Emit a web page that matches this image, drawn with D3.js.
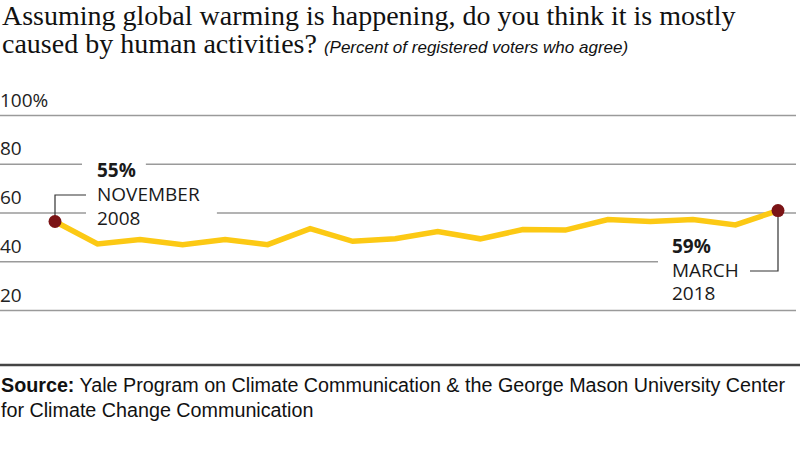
<!DOCTYPE html>
<html>
<head>
<meta charset="utf-8">
<script src="https://cdn.jsdelivr.net/npm/d3@7"></script>
<style>
  html, body { margin: 0; padding: 0; background: #fff; }
  svg { display: block; }
</style>
</head>
<body>
<svg id="chart" width="800" height="450"></svg>
<script>
// ---- Data ----
const waves = ["Nov 2008","Jan 2010","Jun 2010","May 2011","Nov 2011","Mar 2012","Sep 2012","Apr 2013","Dec 2013",
               "Apr 2014","Oct 2014","Mar 2015","Oct 2015","Mar 2016","Nov 2016","May 2017","Oct 2017","Mar 2018"];
const agreeValues = [56.3, 47.1, 48.9, 46.8, 48.9, 46.8, 53.4, 48.2, 49.2, 52.2, 49.2, 53.0, 52.8, 57.1, 56.3, 57.1, 54.9, 60.8];
const yTicks = [20, 40, 60, 80, 100];
const yTickLabels = ["20", "40", "60", "80", "100%"];
const firstLabel = ["55%", "NOVEMBER", "2008"];
const lastLabel = ["59%", "MARCH", "2018"];
const titleLines = ["Assuming global warming is happening, do you think it is mostly", "caused by human activities?"];
const subtitle = "(Percent of registered voters who agree)";
const sourceLines = ["Yale Program on Climate Communication & the George Mason University Center", "for Climate Change Communication"];

// ---- Setup ----
const svg = d3.select("#chart");
const x = d3.scalePoint().domain(waves).range([55, 778]);
const y = d3.scaleLinear().domain([20, 100]).range([310, 115]);
const sans = "'Open Sans', 'Noto Sans', sans-serif";

// Title
const title = svg.append("text")
  .attr("font-family", "'Liberation Serif', 'Times New Roman', serif")
  .attr("font-size", 28).attr("fill", "#111");
title.append("tspan").attr("x", 2).attr("y", 25).text(titleLines[0]);
title.append("tspan").attr("x", 2).attr("y", 53).text(titleLines[1]);
title.append("tspan")
  .attr("dx", 7)
  .attr("font-family", "'Liberation Sans', Arial, sans-serif")
  .attr("font-style", "italic").attr("font-size", 17)
  .text(subtitle);

// Gridlines + y labels
const axis = d3.axisRight(y).tickValues(yTicks).tickSize(796)
  .tickFormat((d, i) => yTickLabels[i]);
const gAxis = svg.append("g").attr("transform", "translate(0,0)").call(axis);
gAxis.select(".domain").remove();
gAxis.selectAll(".tick line").attr("stroke", "#9a9a9a").attr("stroke-width", 1.5);
gAxis.selectAll(".tick text")
  .attr("x", 0).attr("dy", -9).attr("text-anchor", "start")
  .attr("font-family", sans).attr("font-size", 19).attr("fill", "#222");

// Annotation layers
const ann = svg.append("g");
const lineLayer = svg.append("g");
const topLayer = svg.append("g");

// Line
const line = d3.line().x((d, i) => x(waves[i])).y(d => y(d));
lineLayer.append("path")
  .datum(agreeValues)
  .attr("d", line)
  .attr("fill", "none")
  .attr("stroke", "#FCC914")
  .attr("stroke-width", 5.5)
  .attr("stroke-linejoin", "miter");

// End points
const n = agreeValues.length;
const x0 = x(waves[0]), y0 = y(agreeValues[0]);
const x1 = x(waves[n - 1]), y1 = y(agreeValues[n - 1]);

function textBlock(g, lines, tx, baseY, gap) {
  return lines.map((t, i) => g.append("text")
    .attr("x", tx).attr("y", baseY + i * gap)
    .attr("font-family", sans).attr("font-size", 19)
    .attr("font-weight", i === 0 ? 700 : 400)
    .attr("fill", "#1a1a1a").text(t));
}

// Left annotation
const lt = textBlock(topLayer, firstLabel, 97, 177, 24);
{
  const b0 = lt[0].node().getBBox();
  ann.append("rect").attr("x", b0.x - 15).attr("y", b0.y).attr("width", b0.width + 25).attr("height", b0.height).attr("fill", "#fff");
  const b1 = lt[1].node().getBBox(), b2 = lt[2].node().getBBox();
  const w = Math.max(b1.width, b2.width);
  ann.append("rect").attr("x", b1.x - 11).attr("y", b1.y + 2).attr("width", w + 28).attr("height", b2.y + b2.height - b1.y - 4).attr("fill", "#fff");
}
topLayer.append("path")
  .attr("d", `M${x0},${y0}V195H86`)
  .attr("fill", "none").attr("stroke", "#333").attr("stroke-width", 1.2);

// Right annotation
const rt = textBlock(topLayer, lastLabel, 672, 253, 23.5);
{
  const b0 = rt[0].node().getBBox();
  const b2 = rt[2].node().getBBox();
  ann.append("rect").attr("x", 658).attr("y", b0.y).attr("width", 142).attr("height", b2.y + b2.height - b0.y - 4).attr("fill", "#fff");
}
topLayer.append("path")
  .attr("d", `M${x1},${y1}V271H750`)
  .attr("fill", "none").attr("stroke", "#333").attr("stroke-width", 1.2);

// Dots
topLayer.selectAll("circle.end")
  .data([[x0, y0], [x1, y1]])
  .join("circle").attr("class", "end")
  .attr("cx", d => d[0]).attr("cy", d => d[1]).attr("r", 6.5)
  .attr("fill", "#7B1416");

// Bottom rule
svg.append("line").attr("x1", 0).attr("x2", 800).attr("y1", 365).attr("y2", 365)
  .attr("stroke", "#444").attr("stroke-width", 2.5);

// Source (condensed look)
const srcFont = "'Liberation Sans Narrow', 'Arial Narrow', 'Liberation Sans', sans-serif";
const srcG = svg.append("g").attr("transform", "translate(1,0) scale(0.94,1)");
const s1 = srcG.append("text").attr("x", 0).attr("y", 392)
  .attr("font-family", srcFont).attr("font-size", 21).attr("fill", "#111");
s1.append("tspan").attr("font-weight", 700).text("Source:");
s1.append("tspan").text(" " + sourceLines[0]);
srcG.append("text").attr("x", 0).attr("y", 417)
  .attr("font-family", srcFont).attr("font-size", 21).attr("fill", "#111")
  .text(sourceLines[1]);
</script>
</body>
</html>
